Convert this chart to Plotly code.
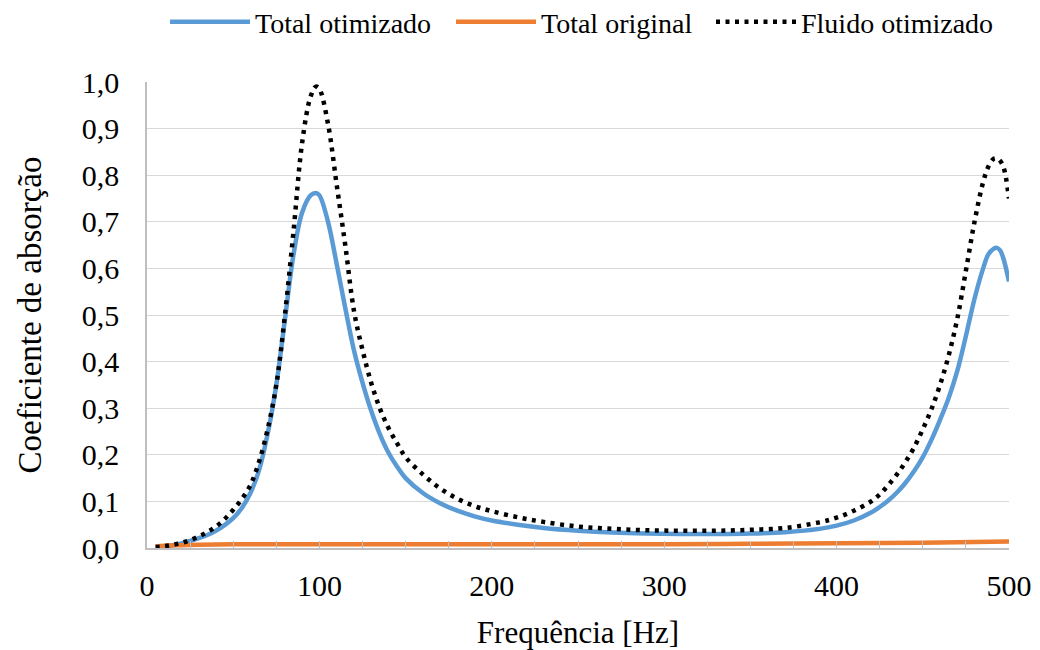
import plotly.graph_objects as go

# Frequency grid [Hz] for the optimized curves
freq = [5, 10, 15, 20, 25, 30, 35, 40, 45, 50, 55, 60, 65, 70, 75, 80, 85, 90, 95, 98,
        100, 105, 110, 115, 120, 125, 130, 135, 140, 145, 150, 160, 170, 180, 190, 200,
        215, 230, 250, 270, 290, 310, 330, 350, 370, 390, 400, 410, 420, 425, 430, 435,
        440, 445, 450, 455, 460, 465, 470, 475, 480, 485, 488, 491, 493, 495, 497, 500]

total_otimizado = [0.000, 0.003, 0.006, 0.010, 0.015, 0.021, 0.028, 0.037, 0.049, 0.064,
                   0.086, 0.118, 0.167, 0.245, 0.350, 0.490, 0.630, 0.720, 0.757, 0.762,
                   0.757, 0.700, 0.610, 0.515, 0.425, 0.355, 0.295, 0.245, 0.205, 0.175,
                   0.150, 0.118, 0.096, 0.080, 0.068, 0.059,
                   0.050, 0.043, 0.037, 0.033, 0.031, 0.030, 0.030, 0.031, 0.034, 0.041,
                   0.048, 0.059, 0.076, 0.088, 0.102, 0.119,
                   0.140, 0.165, 0.195, 0.232, 0.275, 0.322, 0.380, 0.455, 0.535, 0.600,
                   0.630, 0.642, 0.644, 0.638, 0.618, 0.572]

fluido_otimizado = [0.002, 0.004, 0.007, 0.011, 0.017, 0.025, 0.034, 0.046, 0.062, 0.082,
                    0.105, 0.135, 0.185, 0.255, 0.350, 0.500, 0.680, 0.870, 0.970, 0.990,
                    0.985, 0.910, 0.780, 0.650, 0.510, 0.425, 0.355, 0.300, 0.258, 0.225,
                    0.195, 0.158, 0.128, 0.106, 0.090, 0.079,
                    0.066, 0.056, 0.046, 0.041, 0.038, 0.037, 0.037, 0.039, 0.043, 0.055,
                    0.065, 0.080, 0.100, 0.115, 0.135, 0.158,
                    0.185, 0.216, 0.255, 0.298, 0.350, 0.413, 0.492, 0.595, 0.700, 0.785,
                    0.818, 0.835, 0.836, 0.830, 0.815, 0.750]

# Original configuration (nearly flat)
freq_original = [5, 10, 20, 30, 50, 100, 200, 300, 350, 400, 450, 500]
total_original = [0.003, 0.005, 0.006, 0.007, 0.008, 0.008, 0.008, 0.008, 0.009, 0.010,
                  0.0115, 0.014]

x_ticks = [0, 100, 200, 300, 400, 500]

FONT = "Liberation Serif"

fig = go.Figure()
fig.add_trace(go.Scatter(x=freq, y=total_otimizado, name="Total otimizado", mode="lines",
                         legend="legend",
                         line=dict(color="#5B9BD5", width=4.5, shape="spline")))
fig.add_trace(go.Scatter(x=freq_original, y=total_original, name="Total original", mode="lines",
                         legend="legend2",
                         line=dict(color="#ED7D31", width=4.5, shape="spline")))
fig.add_trace(go.Scatter(x=freq, y=fluido_otimizado, name="Fluido otimizado", mode="lines",
                         legend="legend3",
                         line=dict(color="#000000", width=4.5, shape="spline", dash="4px,5.5px")))

leg_common = dict(orientation="h", xanchor="left", xref="container",
                  y=1 - 22 / 650, yanchor="middle", yref="container",
                  font=dict(size=28, family=FONT, color="#000000"), itemwidth=80,
                  bgcolor="rgba(0,0,0,0)")

fig.update_layout(
    width=1040, height=650,
    margin=dict(l=147, r=31, t=82, b=102, autoexpand=False),
    paper_bgcolor="white", plot_bgcolor="white",
    separators=",.",
    font=dict(family=FONT, color="#000000", size=29),
    showlegend=True,
    legend=dict(x=165 / 1040, **leg_common),
    legend2=dict(x=451 / 1040, **leg_common),
    legend3=dict(x=711 / 1040, **leg_common),
    xaxis=dict(range=[0, 500], tickvals=x_ticks, showgrid=False, zeroline=False,
               showline=True, linecolor="#BFBFBF", linewidth=1.5,
               ticks="inside", ticklen=7, tickcolor="#BFBFBF", tickwidth=1,
               minor=dict(dtick=25, ticks="inside", ticklen=7, tickcolor="#BFBFBF", tickwidth=1),
               tickfont=dict(size=30), ticklabelstandoff=10,
               title=dict(text="Frequência [Hz]", font=dict(size=31), standoff=22)),
    yaxis=dict(range=[0, 1.0], dtick=0.1, tickformat=".1f", showgrid=True,
               gridcolor="#D9D9D9", gridwidth=1, zeroline=False,
               showline=True, linecolor="#BFBFBF", linewidth=1.5, ticks="",
               tickfont=dict(size=30), ticklabelstandoff=20,
               title=dict(text="Coeficiente de absorção", font=dict(size=33), standoff=30)),
)

fig.write_html("out.html")
